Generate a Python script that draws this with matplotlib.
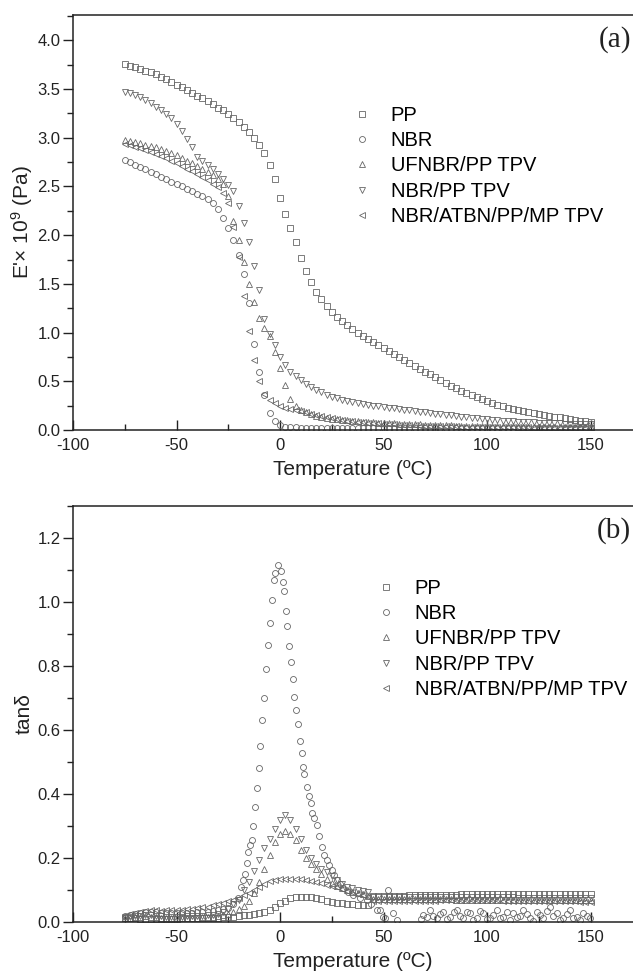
import matplotlib
matplotlib.use("Agg")
import matplotlib.pyplot as plt
from matplotlib.ticker import MultipleLocator

plt.rcParams['font.family'] = ['Liberation Sans', 'DejaVu Sans']
plt.rcParams['mathtext.fontset'] = 'custom'
plt.rcParams['mathtext.rm'] = 'Liberation Sans'
plt.rcParams['mathtext.it'] = 'Liberation Sans:italic'
plt.rcParams['axes.unicode_minus'] = False

labels = ["PP", "NBR", "UFNBR/PP TPV", "NBR/PP TPV", "NBR/ATBN/PP/MP TPV"]
markers = ["s", "o", "^", "v", "<"]

# temperature grid (°C), shared by most series
temp = [-75, -72.5, -70, -67.5, -65, -62.5, -60, -57.5, -55, -52.5,
        -50, -47.5, -45, -42.5, -40, -37.5, -35, -32.5, -30, -27.5,
        -25, -22.5, -20, -17.5, -15, -12.5, -10, -7.5, -5, -2.5,
        0, 2.5, 5, 7.5, 10, 12.5, 15, 17.5, 20, 22.5,
        25, 27.5, 30, 32.5, 35, 37.5, 40, 42.5, 45, 47.5,
        50, 52.5, 55, 57.5, 60, 62.5, 65, 67.5, 70, 72.5,
        75, 77.5, 80, 82.5, 85, 87.5, 90, 92.5, 95, 97.5,
        100, 102.5, 105, 107.5, 110, 112.5, 115, 117.5, 120, 122.5,
        125, 127.5, 130, 132.5, 135, 137.5, 140, 142.5, 145, 147.5,
        150]

# ---- (a) storage modulus E' (x 1e9 Pa)
e_pp = [3.76, 3.74, 3.73, 3.71, 3.69, 3.67, 3.65, 3.62, 3.60, 3.57,
        3.54, 3.52, 3.49, 3.46, 3.43, 3.41, 3.38, 3.35, 3.31, 3.28,
        3.24, 3.20, 3.16, 3.11, 3.06, 3.00, 2.93, 2.84, 2.72, 2.58,
        2.38, 2.22, 2.07, 1.93, 1.77, 1.63, 1.52, 1.42, 1.34, 1.27,
        1.21, 1.16, 1.12, 1.08, 1.04, 1.00, 0.96, 0.93, 0.90, 0.87,
        0.84, 0.81, 0.78, 0.75, 0.72, 0.69, 0.66, 0.63, 0.60, 0.57,
        0.54, 0.51, 0.48, 0.45, 0.43, 0.40, 0.38, 0.36, 0.34, 0.32,
        0.30, 0.28, 0.26, 0.245, 0.23, 0.22, 0.205, 0.195, 0.185, 0.175,
        0.165, 0.155, 0.145, 0.138, 0.13, 0.122, 0.115, 0.105, 0.097, 0.088,
        0.08]
e_nbr = [2.77, 2.75, 2.72, 2.70, 2.68, 2.65, 2.63, 2.60, 2.58, 2.55,
         2.53, 2.50, 2.47, 2.45, 2.42, 2.40, 2.37, 2.33, 2.27, 2.18,
         2.07, 1.95, 1.80, 1.60, 1.30, 0.88, 0.60, 0.36, 0.17, 0.09,
         0.05, 0.035, 0.03, 0.027, 0.025, 0.024, 0.024, 0.023, 0.023, 0.022,
         0.022, 0.022, 0.021, 0.021, 0.021, 0.020, 0.020, 0.020, 0.020, 0.019,
         0.019, 0.019, 0.019, 0.019, 0.018, 0.018, 0.018, 0.018, 0.018, 0.018,
         0.017, 0.017, 0.017, 0.017, 0.017, 0.017, 0.017, 0.017, 0.017, 0.017,
         0.017, 0.017, 0.016, 0.016, 0.016, 0.016, 0.016, 0.016, 0.016, 0.016,
         0.016, 0.016, 0.016, 0.016, 0.016, 0.016, 0.016, 0.016, 0.016, 0.016,
         0.016]
e_uf = [2.98, 2.97, 2.96, 2.95, 2.93, 2.92, 2.90, 2.88, 2.86, 2.84,
        2.82, 2.79, 2.76, 2.74, 2.71, 2.68, 2.65, 2.62, 2.58, 2.53,
        2.40, 2.15, 1.95, 1.72, 1.50, 1.31, 1.15, 1.05, 0.96, 0.80,
        0.64, 0.46, 0.32, 0.25, 0.21, 0.18, 0.16, 0.145, 0.135, 0.125,
        0.117, 0.11, 0.104, 0.098, 0.093, 0.089, 0.085, 0.082, 0.079, 0.076,
        0.073, 0.07, 0.068, 0.066, 0.064, 0.062, 0.06, 0.058, 0.056, 0.054,
        0.052, 0.051, 0.049, 0.048, 0.046, 0.045, 0.044, 0.043, 0.042, 0.041,
        0.04, 0.039, 0.038, 0.037, 0.036, 0.036, 0.035, 0.034, 0.034, 0.033,
        0.033, 0.032, 0.032, 0.031, 0.031, 0.03, 0.03, 0.029, 0.029, 0.028,
        0.028]
e_tpv = [3.47, 3.46, 3.44, 3.42, 3.39, 3.36, 3.32, 3.28, 3.24, 3.20,
         3.14, 3.07, 2.99, 2.90, 2.80, 2.76, 2.72, 2.68, 2.63, 2.58,
         2.52, 2.45, 2.30, 2.12, 1.93, 1.68, 1.44, 1.14, 0.99, 0.87,
         0.75, 0.67, 0.60, 0.55, 0.51, 0.47, 0.44, 0.41, 0.385, 0.36,
         0.34, 0.325, 0.31, 0.295, 0.285, 0.275, 0.265, 0.258, 0.25, 0.243,
         0.236, 0.229, 0.222, 0.215, 0.208, 0.201, 0.195, 0.188, 0.181, 0.175,
         0.168, 0.162, 0.155, 0.149, 0.142, 0.136, 0.13, 0.124, 0.119, 0.114,
         0.109, 0.105, 0.101, 0.097, 0.093, 0.09, 0.087, 0.084, 0.081, 0.078,
         0.076, 0.074, 0.072, 0.07, 0.068, 0.066, 0.064, 0.062, 0.061, 0.06,
         0.059]
e_atbn = [2.94, 2.93, 2.91, 2.89, 2.87, 2.85, 2.83, 2.81, 2.79, 2.76,
          2.74, 2.71, 2.68, 2.66, 2.63, 2.60, 2.57, 2.53, 2.49, 2.43,
          2.33, 2.08, 1.78, 1.38, 1.02, 0.72, 0.50, 0.37, 0.31, 0.275,
          0.25, 0.23, 0.215, 0.205, 0.195, 0.18, 0.165, 0.15, 0.14, 0.13,
          0.12, 0.112, 0.104, 0.097, 0.091, 0.085, 0.08, 0.075, 0.071, 0.067,
          0.063, 0.06, 0.057, 0.054, 0.052, 0.05, 0.048, 0.046, 0.044, 0.042,
          0.041, 0.039, 0.038, 0.037, 0.036, 0.035, 0.034, 0.033, 0.032, 0.031,
          0.03, 0.03, 0.029, 0.028, 0.028, 0.027, 0.027, 0.026, 0.026, 0.025,
          0.025, 0.024, 0.024, 0.024, 0.023, 0.023, 0.022, 0.022, 0.022, 0.021,
          0.021]

# ---- (b) loss factor tan(delta)
t_pp = [0.012, 0.011, 0.011, 0.010, 0.010, 0.010, 0.010, 0.010, 0.010, 0.010,
        0.010, 0.011, 0.011, 0.011, 0.012, 0.012, 0.013, 0.013, 0.014, 0.015,
        0.016, 0.017, 0.019, 0.021, 0.023, 0.025, 0.027, 0.031, 0.038, 0.048,
        0.058, 0.067, 0.074, 0.078, 0.079, 0.079, 0.078, 0.075, 0.071, 0.067,
        0.063, 0.060, 0.058, 0.056, 0.055, 0.054, 0.053, 0.052, 0.080, 0.081,
        0.081, 0.081, 0.082, 0.082, 0.082, 0.083, 0.083, 0.083, 0.084, 0.084,
        0.084, 0.085, 0.085, 0.085, 0.085, 0.086, 0.086, 0.086, 0.086, 0.086,
        0.086, 0.086, 0.086, 0.086, 0.086, 0.086, 0.086, 0.086, 0.086, 0.086,
        0.086, 0.087, 0.087, 0.087, 0.087, 0.087, 0.088, 0.088, 0.088, 0.088,
        0.089]
t_uf = [0.013, 0.014, 0.015, 0.016, 0.018, 0.017, 0.015, 0.014, 0.013, 0.013,
        0.013, 0.013, 0.013, 0.014, 0.014, 0.015, 0.016, 0.017, 0.019, 0.022,
        0.026, 0.032, 0.040, 0.050, 0.065, 0.090, 0.125, 0.165, 0.210, 0.250,
        0.275, 0.285, 0.275, 0.255, 0.225, 0.200, 0.180, 0.165, 0.150, 0.135,
        0.123, 0.114, 0.106, 0.100, 0.095, 0.090, 0.086, 0.082, 0.071, 0.071,
        0.071, 0.071, 0.071, 0.071, 0.071, 0.071, 0.071, 0.071, 0.071, 0.071,
        0.071, 0.071, 0.071, 0.071, 0.070, 0.070, 0.070, 0.070, 0.070, 0.070,
        0.070, 0.070, 0.070, 0.070, 0.070, 0.070, 0.070, 0.070, 0.070, 0.070,
        0.070, 0.069, 0.069, 0.069, 0.069, 0.069, 0.069, 0.069, 0.069, 0.069,
        0.069]
t_tpv = [0.016, 0.017, 0.018, 0.020, 0.022, 0.021, 0.019, 0.018, 0.017, 0.017,
         0.017, 0.017, 0.018, 0.018, 0.019, 0.020, 0.021, 0.023, 0.026, 0.032,
         0.042, 0.055, 0.070, 0.100, 0.125, 0.160, 0.195, 0.230, 0.260, 0.290,
         0.320, 0.335, 0.320, 0.290, 0.260, 0.225, 0.200, 0.180, 0.165, 0.155,
         0.145, 0.130, 0.120, 0.110, 0.105, 0.100, 0.097, 0.095, 0.078, 0.077,
         0.077, 0.077, 0.077, 0.077, 0.077, 0.078, 0.078, 0.078, 0.078, 0.078,
         0.078, 0.078, 0.078, 0.078, 0.078, 0.078, 0.078, 0.078, 0.078, 0.077,
         0.077, 0.077, 0.077, 0.077, 0.077, 0.077, 0.076, 0.076, 0.076, 0.076,
         0.076, 0.076, 0.075, 0.075, 0.075, 0.075, 0.075, 0.075, 0.074, 0.074,
         0.074]
t_atbn = [0.020, 0.025, 0.028, 0.031, 0.035, 0.038, 0.036, 0.035, 0.036, 0.037,
          0.038, 0.039, 0.040, 0.042, 0.044, 0.046, 0.048, 0.052, 0.056, 0.060,
          0.065, 0.070, 0.076, 0.083, 0.090, 0.100, 0.110, 0.120, 0.127, 0.131,
          0.134, 0.135, 0.135, 0.134, 0.133, 0.131, 0.128, 0.125, 0.121, 0.117,
          0.113, 0.108, 0.103, 0.098, 0.093, 0.088, 0.083, 0.078, 0.066, 0.066,
          0.066, 0.066, 0.066, 0.066, 0.066, 0.066, 0.067, 0.067, 0.067, 0.067,
          0.067, 0.068, 0.068, 0.068, 0.068, 0.068, 0.068, 0.068, 0.068, 0.068,
          0.068, 0.068, 0.068, 0.067, 0.067, 0.067, 0.067, 0.067, 0.067, 0.066,
          0.066, 0.066, 0.066, 0.066, 0.065, 0.065, 0.065, 0.065, 0.064, 0.064,
          0.064]

# NBR tan(delta) has its own temperatures (sharp peak, noisy tail)
temp_nbr = [-75, -72.5, -70, -67.5, -65, -62.5, -60, -57.5, -55, -52.5,
            -50, -47.5, -45, -42.5, -40, -37.5, -35, -32.5, -30, -27.5,
            -25, -22.5, -20.5, -19, -18, -17, -16.1, -15.3, -14.5, -13.7,
            -12.9, -12.1, -11.0, -10.3, -9.5, -8.5, -7.6, -6.6, -5.8, -5.0,
            -3.9, -3.1, -2.3, -0.8, 0.5, 1.3, 1.9, 2.9, 3.5, 4.3,
            5.3, 6.1, 6.9, 7.7, 8.5, 9.5, 10.5, 11.1, 11.8, 12.9,
            13.9, 14.8, 15.6, 16.6, 17.7, 18.8, 20.1, 21.3, 22.6, 23.8,
            25, 26.2, 27.4, 29, 30.6, 33, 35.4, 38.5, 41.9, 44,
            46.7, 48.3, 49.8, 50.7, 52.3, 54.7, 56.4, 68, 69.2, 71,
            72.5, 74, 75.7, 77.5, 78.9, 80.5, 82.1, 83.8, 85.4, 87,
            88.6, 90.2, 91.8, 93.4, 95, 96.6, 98.2, 99.8, 101.4, 103,
            104.7, 106.3, 107.9, 109.5, 111.1, 112.7, 114.3, 115.9, 117.5, 119.2,
            120.8, 122.4, 124, 125.6, 127.2, 128.8, 130.4, 132, 133.7, 135.3,
            136.9, 138.5, 140.1, 141.7, 143.3, 144.9, 146.5, 148.2, 149.8]
t_nbr = [0.020, 0.022, 0.025, 0.028, 0.030, 0.032, 0.030, 0.028, 0.027, 0.027,
         0.027, 0.028, 0.028, 0.029, 0.030, 0.031, 0.032, 0.034, 0.036, 0.040,
         0.045, 0.055, 0.075, 0.110, 0.130, 0.150, 0.183, 0.220, 0.240, 0.256,
         0.300, 0.360, 0.418, 0.480, 0.550, 0.630, 0.700, 0.790, 0.865, 0.935,
         1.006, 1.069, 1.092, 1.116, 1.098, 1.064, 1.035, 0.973, 0.925, 0.863,
         0.811, 0.760, 0.704, 0.663, 0.619, 0.567, 0.527, 0.485, 0.461, 0.423,
         0.394, 0.373, 0.342, 0.324, 0.303, 0.270, 0.235, 0.210, 0.194, 0.178,
         0.163, 0.147, 0.131, 0.118, 0.105, 0.094, 0.084, 0.076, 0.069, 0.055,
         0.038, 0.037, 0.017, 0.012, 0.100, 0.027, 0.006, 0.010, 0.022, 0.015,
         0.0375, 0.020, 0.011, 0.025, 0.032, 0.008, 0.017, 0.030, 0.0375, 0.020,
         0.011, 0.030, 0.027, 0.005, 0.011, 0.033, 0.027, 0.008, 0.011, 0.022,
         0.0375, 0.012, 0.017, 0.030, 0.006, 0.027, 0.015, 0.020, 0.0375, 0.025,
         0.011, 0.004, 0.030, 0.022, 0.012, 0.033, 0.048, 0.020, 0.027, 0.006,
         0.011, 0.025, 0.0375, 0.014, 0.017, 0.005, 0.027, 0.020, 0.011]

W, H = 633, 980
fig = plt.figure(figsize=(W / 100, H / 100), dpi=100)
ax_a = fig.add_axes([73 / W, 1 - 430 / H, 560 / W, 415 / H])
ax_b = fig.add_axes([73 / W, 1 - 922 / H, 560 / W, 416 / H])

mstyle = dict(linestyle="none", ms=4.3, mew=0.6, mfc="none", mec="#666666")

series_a = [e_pp, e_nbr, e_uf, e_tpv, e_atbn]
for vals, mk, lab in zip(series_a, markers, labels):
    ax_a.plot(temp, vals, marker=mk, label=lab, **mstyle)

series_b = [(temp, t_pp), (temp_nbr, t_nbr), (temp, t_uf), (temp, t_tpv), (temp, t_atbn)]
for (tx, vals), mk, lab in zip(series_b, markers, labels):
    ax_b.plot(tx, vals, marker=mk, label=lab, **mstyle)

for ax in (ax_a, ax_b):
    ax.set_xlim(-100, 170.5)
    ax.xaxis.set_major_locator(MultipleLocator(50))
    ax.xaxis.set_minor_locator(MultipleLocator(25))
    ax.spines['right'].set_visible(False)
    for s in ('left', 'top', 'bottom'):
        ax.spines[s].set_linewidth(1.1)
        ax.spines[s].set_color('#222222')
    ax.tick_params(axis='x', which='both', direction='in', top=False,
                   labelsize=12, pad=6, colors='#222222')
    ax.tick_params(axis='y', which='both', direction='out', right=False,
                   labelsize=12, pad=2, colors='#222222')
    ax.tick_params(which='major', length=7, width=1)
    ax.tick_params(which='minor', length=4, width=1)
    ax.set_xlabel("Temperature (ºC)", fontsize=15, labelpad=5, color='#222222')

ax_a.set_ylim(0, 4.26)
ax_a.yaxis.set_major_locator(MultipleLocator(0.5))
ax_a.yaxis.set_minor_locator(MultipleLocator(0.25))
ax_a.yaxis.set_major_formatter(lambda v, p: f"{v:.1f}")
ax_a.set_ylabel("E'× 10$^{9}$ (Pa)", fontsize=15, labelpad=1.5, color='#222222')

ax_b.set_ylim(0, 1.3)
ax_b.yaxis.set_major_locator(MultipleLocator(0.2))
ax_b.yaxis.set_minor_locator(MultipleLocator(0.1))
ax_b.yaxis.set_major_formatter(lambda v, p: f"{v:.1f}")
ax_b.set_ylabel("tanδ", fontsize=15, labelpad=3, color='#222222')

ax_a.text(0.997, 0.94, "(a)", transform=ax_a.transAxes, ha='right', va='center',
          fontsize=21, family='Liberation Serif', color='#222222')
ax_b.text(0.997, 0.942, "(b)", transform=ax_b.transAxes, ha='right', va='center',
          fontsize=21, family='Liberation Serif', color='#222222')

leg_kw = dict(loc='upper left', frameon=False, fontsize=14.5, handlelength=1.0,
              handletextpad=0.95, labelspacing=0.31, borderpad=0, borderaxespad=0,
              markerscale=1.0, bbox_transform=fig.transFigure)
ax_a.legend(bbox_to_anchor=(351.5 / W, 1 - 106 / H), **leg_kw)
ax_b.legend(bbox_to_anchor=(375.5 / W, 1 - 579 / H), **leg_kw)

fig.savefig("out.png", dpi=100)
